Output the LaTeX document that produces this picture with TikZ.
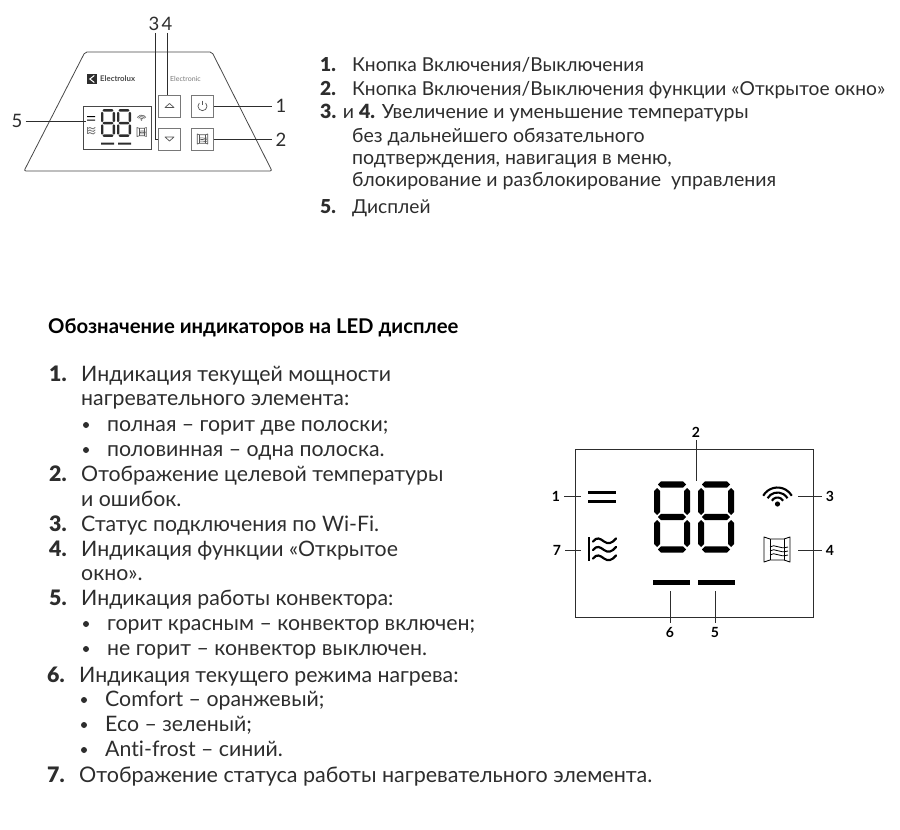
\documentclass[tikz,border=0pt]{standalone}
\usepackage{fontspec}
\setmainfont[Ligatures=CommonOff]{Lato}
\newfontfamily\numfont{Lato Black}
\definecolor{inkgray}{RGB}{45, 45, 45}
\definecolor{panelgray}{RGB}{120, 120, 120}
\usetikzlibrary{positioning, calc}
\def\icw{1}

\begin{document}
\begin{tikzpicture}[
  x=1pt, y=-1pt,
  numlab/.style={inner sep=0pt, text=inkgray, font=\fontsize{18.5}{19}\selectfont},
  lcdlab/.style={inner sep=0pt, text=black, font=\fontsize{14}{14}\selectfont\bfseries},
  leadline/.style={draw=inkgray, line width=0.7pt},
  keybox/.style={draw=panelgray, fill=white, line width=0.8pt, minimum width=22pt, minimum height=22pt, inner sep=0pt},
  toptxt/.style={anchor=base west, inner sep=0pt, yshift=-1pt, text=inkgray, font=\fontsize{19.2}{22}\selectfont},
  toplong/.style={toptxt, font=\fontsize{19.55}{22}\selectfont},
  listtxt/.style={anchor=base west, inner sep=0pt, yshift=-1pt, text=inkgray, font=\fontsize{21.3}{24}\selectfont},
  lcdbar/.style={fill=black, draw=none},
  iconpen/.code={\def\icw{#1}},
  digit/.pic={
    \foreach \yy in {3.5,36,68.5}
      \fill (4,\yy) -- (7,\yy-3.2) -- (29,\yy-3.2) -- (32,\yy) -- (29,\yy+3.2) -- (7,\yy+3.2) -- cycle;
    \foreach \xx in {3,33}
      \foreach \yy in {7,39} {
        \fill (\xx-3,\yy+3) -- (\xx,\yy) -- (\xx+3,\yy+3) -- (\xx+3,\yy+24) -- (\xx,\yy+27) -- (\xx-3,\yy+24) -- cycle;
      }
  },
  wavesign/.pic={
    \draw[line width=\icw*1.8pt] (0,0) -- (0,24);
    \foreach \yy in {4.5,13,21.5}
      \draw[line width=\icw*2.2pt, line cap=round] (4,\yy) .. controls (8,\yy-5) and (11,\yy-3) .. (15,\yy) .. controls (19,\yy+3) and (23,\yy+2) .. (27,\yy-3);
  },
  winsign/.pic={
    \draw[line width=\icw*0.9pt, line join=round] (0,0) -- (6,2) -- (20,2) -- (26,0) -- (26,25) -- (20,23) -- (6,23) -- (0,25) -- cycle;
    \draw[line width=\icw*0.9pt] (6,2) -- (6,23) (20,2) -- (20,23);
    \foreach \yy in {10,14,18}
      \draw[line width=\icw*0.8pt] (6,\yy) .. controls (11,\yy-4) and (15,\yy+3) .. (24,\yy);
  },
  wifisign/.pic={
    \fill (0,0) circle (2.6);
    \foreach \rr in {6.5,11.5,16.5}
      \draw[line width=\icw*2.1pt] (210:\rr) arc[start angle=210, end angle=330, radius=\rr];
  }
]
  \useasboundingbox (0,0) rectangle (900,830);

  % control panel
  \draw[panelgray!60!black, line width=0.8pt, line join=round, rounded corners=2pt]
    (85,52) -- (212,52) -- (272,171) -- (24,171) -- cycle;
  \node[inner sep=0pt, text=panelgray!60!black, font=\fontsize{7.8}{8}\selectfont\bfseries, anchor=west] (brand) at (100,79) {Electrolux};
  \node[fill=inkgray, minimum size=10pt, inner sep=0pt, left=3pt of brand] (logo) {};
  \draw[white, line width=1pt] ($(logo.center)+(2.5,-3.5)$) -- ($(logo.center)+(-2,0)$) -- ($(logo.center)+(2.5,3.5)$);
  \node[inner sep=0pt, text=panelgray, font=\fontsize{7}{7}\selectfont, anchor=west] (series) at (170,79) {Electronic};

  \node[draw=panelgray!60!black, line width=0.8pt, minimum width=68pt, minimum height=43pt, inner sep=0pt] (disp) at (117,127.5) {};
  \pic[scale=0.39, inkgray] at (101,109) {digit};
  \pic[scale=0.39, inkgray] at (117,109) {digit};
  \fill[black] (87,116) rectangle (95,117.2) (87,119.5) rectangle (95,120.7);
  \pic[scale=0.3, panelgray, iconpen=0.4] at (87,127) {wavesign};
  \pic[scale=0.3, panelgray, iconpen=0.4] at (141.5,120) {wifisign};
  \pic[scale=0.36, panelgray!70!black, iconpen=0.7] at (137,127.5) {winsign};
  \fill[inkgray] (101,142.5) rectangle (114,144.5) (118,142.5) rectangle (131,144.5);

  \node[keybox] (up) at (169,106) {};
  \node[keybox] (down) at (169,139) {};
  \node[keybox] (power) at (202.5,106) {};
  \node[keybox] (openwin) at (202.5,139) {};
  \draw[panelgray!70!black, line width=0.7pt, line join=round] (165,107.5) -- (169.5,103.5) -- (174,107.5) -- cycle;
  \draw[panelgray!70!black, line width=0.7pt, line join=round] (165,137) -- (169.5,141) -- (174,137) -- cycle;
  \draw[panelgray!70!black, line width=0.7pt] (199.3,103) arc[start angle=225, end angle=-45, radius=4.5];
  \draw[panelgray!70!black, line width=0.7pt] (202.5,100.5) -- (202.5,105);
  \pic[scale=0.4, panelgray!70!black, iconpen=0.7] at (197.3,134) {winsign};

  \node[numlab] (top3) at (154,24) {3};
  \node[numlab] (top4) at (167,24) {4};
  \node[numlab] (top1) at (281,106) {1};
  \node[numlab] (top2) at (281,140) {2};
  \node[numlab] (top5) at (17,121) {5};
  \coordinate (dispend) at (86,121);
  \coordinate (bendthree) at (155,139);
  \draw[leadline] (top4.south) ++(0,2) -- (up.north -| top4.south);
  \draw[leadline] (top3.south -| bendthree) ++(0,2) -- (bendthree) -- (down.west);
  \draw[leadline] (power.east) -- ($(top1.west)+(-3,0)$);
  \draw[leadline] (openwin.east) -- ($(top2.west |- openwin.east)+(-3,0)$);
  \draw[leadline] ($(top5.east)+(3,0)$) -- (dispend);

  % first list
  \node[toptxt] (t1n) at (320,70) {\numfont 1.};
  \node[toptxt] (t1) at (352,70) {Кнопка Включения/Выключения};
  \node[toptxt] (t2n) at (320,94) {\numfont 2.};
  \node[toptxt] (t2) at (352,94) {Кнопка Включения/Выключения функции «Открытое окно»};
  \node[toplong] (t3) at (320,117) {{\numfont 3.} и {\numfont 4.} Увеличение и уменьшение температуры};
  \node[toplong] (t4) at (352,141) {без дальнейшего обязательного};
  \node[toplong] (t5) at (352,163) {подтверждения, навигация в меню,};
  \node[toplong] (t6) at (352,185) {блокирование и разблокирование\hspace{5pt} управления};
  \node[toptxt] (t7n) at (320,212) {\numfont 5.};
  \node[toptxt] (t7) at (352,212) {Дисплей};

  % indicator list
  \node[anchor=base west, inner sep=0pt, yshift=-1.5pt, text=black, font=\fontsize{20.3}{24}\selectfont\bfseries] (head) at (48,332) {Обозначение индикаторов на LED дисплее};
  \foreach \nn/\yy/\txt in {1/380/{Индикация текущей мощности},2/480/{Отображение целевой температуры},3/530/{Статус подключения по Wi-Fi.},4/555/{Индикация функции «Открытое},5/604/{Индикация работы конвектора:}} {
    \node[listtxt] (n\nn) at (49,\yy) {\numfont \nn.};
    \node[listtxt] (l\nn) at (81,\yy) {\txt};
  }
  \node[listtxt] (n6) at (47,681) {\numfont 6.};
  \node[listtxt] (l6) at (79,681) {Индикация текущего режима нагрева:};
  \node[listtxt] (n7) at (47,781) {\numfont 7.};
  \node[listtxt, font=\fontsize{21.5}{24}\selectfont] (l7) at (79,781) {Отображение статуса работы нагревательного элемента.};
  \node[listtxt] (c1) at (81,404) {нагревательного элемента:};
  \node[listtxt] (c2) at (81,505) {и ошибок.};
  \node[listtxt] (c4) at (81,579) {окно».};
  \foreach \ii/\xx/\yy/\txt in {1/107/430/{полная – горит две полоски;},2/107/455/{половинная – одна полоска.},3/107/629/{горит красным – конвектор включен;},4/107/654/{не горит – конвектор выключен.},5/105/705/{Comfort – оранжевый;},6/105/730/{Eco – зеленый;},7/105/755/{Anti-frost – синий.}} {
    \node[listtxt] (b\ii) at (\xx,\yy) {\txt};
    \fill[inkgray] ($(b\ii.base west)+(-21,-6)$) circle (3);
  }

  % LED display
  \node[draw=inkgray, line width=1pt, minimum width=238pt, minimum height=168pt, inner sep=0pt] (lcd) at (694,533) {};
  \pic[black] at (654,481) {digit};
  \pic[black] at (698,481) {digit};
  \node[lcdbar, minimum width=28pt, minimum height=3pt, inner sep=0pt] (powhi) at (602,492) {};
  \node[lcdbar, minimum width=28pt, minimum height=3pt, inner sep=0pt] (powlo) at (602,501) {};
  \node[lcdbar, minimum width=37pt, minimum height=5pt, inner sep=0pt] (modebar) at (671.5,582) {};
  \node[lcdbar, minimum width=37pt, minimum height=5pt, inner sep=0pt] (convbar) at (716.5,582) {};
  \pic[black] at (589,537) {wavesign};
  \pic[black] at (777.5,504) {wifisign};
  \pic[black] at (764,537) {winsign};

  \node[lcdlab] (led1) at (556,496) {1};
  \node[lcdlab] (led7) at (557,550) {7};
  \node[lcdlab] (led2) at (696,432) {2};
  \node[lcdlab] (led3) at (830,496) {3};
  \node[lcdlab] (led4) at (830,550) {4};
  \node[lcdlab] (led6) at (670,632) {6};
  \node[lcdlab] (led5) at (715,632) {5};
  \coordinate (end1) at (581,496);
  \coordinate (end7) at (581,550);
  \coordinate (end2) at (696,481);
  \coordinate (end3) at (798,496);
  \coordinate (end4) at (798,550);
  \coordinate (end6) at (670,591);
  \coordinate (end5) at (715,591);
  \draw[leadline] ($(led1.east)+(4,0)$) -- (end1);
  \draw[leadline] ($(led7.east)+(4,0)$) -- (end7);
  \draw[leadline] ($(led2.south)+(0,3)$) -- (end2);
  \draw[leadline] ($(led3.west)+(-4,0)$) -- (end3);
  \draw[leadline] ($(led4.west)+(-4,0)$) -- (end4);
  \draw[leadline] ($(led6.north)+(0,-4)$) -- (end6);
  \draw[leadline] ($(led5.north)+(0,-4)$) -- (end5);
\end{tikzpicture}
\end{document}
